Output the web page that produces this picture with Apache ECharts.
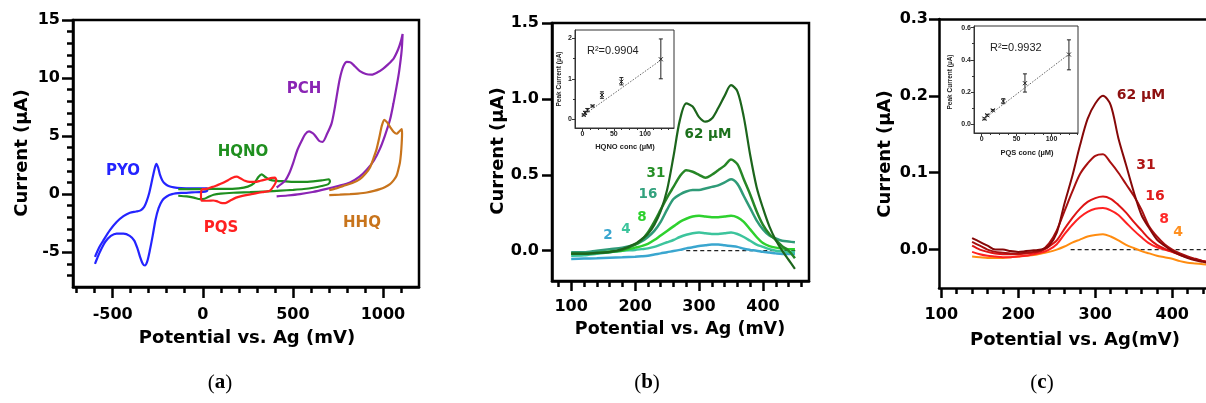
<!DOCTYPE html>
<html>
<head>
<meta charset="utf-8">
<script src="https://cdn.jsdelivr.net/npm/echarts@6/dist/echarts.min.js"></script>
<style>
  html, body { margin: 0; background: #fff; }
  #main { width: 1206px; height: 403px; }
</style>
</head>
<body>
<div id="main"></div>
<script>
// ---- panel (a): cyclic voltammograms, [potential mV, current uA]
const pyoCurve = [[-598,-5.4],[-575,-4.6],[-552,-4.0],[-515,-3.1],[-478,-2.4],[-440,-1.9],[-404,-1.6],[-370,-1.5],[-345,-1.4],[-325,-1.1],[-311,-0.6],[-297,0.1],[-284,1.0],[-270,2.0],[-258,2.6],[-248,2.3],[-238,1.7],[-225,1.2],[-210,0.9],[-190,0.7],[-160,0.58],[-120,0.52],[-60,0.5],[0,0.5],[25,0.5],[25,0.3],[0,0.2],[-60,0.15],[-120,0.1],[-170,0.0],[-200,-0.2],[-225,-0.55],[-245,-1.2],[-262,-2.2],[-278,-3.6],[-293,-4.8],[-308,-5.8],[-321,-6.15],[-333,-6.0],[-348,-5.4],[-362,-4.7],[-380,-4.0],[-405,-3.6],[-440,-3.4],[-478,-3.4],[-510,-3.6],[-540,-4.1],[-565,-4.8],[-585,-5.5],[-598,-6.0]];
const hqnoCurve = [[-136,0.43],[-80,0.42],[-15,0.43],[50,0.45],[120,0.45],[200,0.5],[250,0.65],[285,0.95],[310,1.5],[327,1.7],[345,1.5],[370,1.25],[410,1.14],[460,1.1],[502,1.05],[560,1.05],[613,1.1],[660,1.18],[700,1.28],[706,1.1],[697,0.86],[660,0.7],[613,0.55],[560,0.44],[502,0.37],[430,0.3],[354,0.23],[262,0.17],[169,0.12],[100,0.05],[60,-0.05],[30,-0.25],[10,-0.4],[-15,-0.43],[-50,-0.3],[-89,-0.2],[-136,-0.14]];
const pqsCurve = [[-6,0.43],[20,0.45],[50,0.6],[77,0.75],[110,0.95],[140,1.2],[165,1.42],[188,1.5],[210,1.35],[234,1.15],[260,1.05],[290,1.05],[320,1.15],[354,1.28],[385,1.4],[401,1.43],[408,1.2],[400,0.85],[373,0.3],[340,0.2],[317,0.14],[270,0.0],[220,-0.15],[185,-0.3],[151,-0.57],[125,-0.77],[100,-0.75],[77,-0.6],[58,-0.55],[30,-0.57],[-6,-0.57],[-10,0.0],[-6,0.43]];
const pchCurve = [[410,0.57],[456,1.14],[480,1.8],[502,2.7],[525,3.8],[549,4.6],[568,5.15],[590,5.4],[610,5.25],[623,5.05],[645,4.6],[665,4.5],[690,5.2],[715,6.1],[730,7.2],[743,8.4],[760,9.9],[780,11.0],[800,11.4],[820,11.35],[845,11.0],[872,10.6],[905,10.35],[937,10.3],[970,10.5],[1000,10.8],[1030,11.2],[1060,11.7],[1085,12.5],[1100,13.2],[1109,13.8],[1104,12.4],[1090,10.6],[1076,9.3],[1058,7.8],[1039,6.4],[1010,5.0],[983,3.9],[950,2.9],[910,2.1],[870,1.5],[817,1.0],[750,0.7],[687,0.45],[610,0.18],[539,0.0],[470,-0.12],[410,-0.2]];
const hhqCurve = [[702,0.34],[740,0.5],[780,0.71],[830,0.95],[872,1.29],[905,1.8],[928,2.3],[950,3.2],[965,3.9],[980,4.9],[993,5.85],[1007,6.4],[1022,6.2],[1039,5.8],[1060,5.35],[1076,5.2],[1090,5.4],[1104,5.6],[1106,5.2],[1104,4.4],[1100,3.5],[1094,2.7],[1085,2.1],[1076,1.6],[1060,1.2],[1039,0.86],[1010,0.6],[983,0.43],[950,0.28],[910,0.14],[860,0.05],[817,0.0],[760,-0.05],[702,-0.09]];

// ---- panel (b): HQNO square-wave scans
const potB = [100,120,140,160,180,200,210,220,230,240,250,260,270,280,290,300,310,320,330,340,350,360,370,380,390,400,410,420,430,440,450];
const hqno62 = [-0.02,-0.02,-0.015,-0.008,0.01,0.045,0.075,0.11,0.17,0.26,0.4,0.62,0.86,0.97,0.95,0.88,0.85,0.87,0.94,1.02,1.09,1.05,0.88,0.63,0.42,0.28,0.16,0.07,0.0,-0.06,-0.12];
const hqno31 = [-0.02,-0.02,-0.015,-0.01,0.005,0.04,0.07,0.12,0.19,0.27,0.35,0.42,0.49,0.53,0.52,0.5,0.48,0.5,0.53,0.56,0.6,0.57,0.47,0.37,0.26,0.17,0.11,0.07,0.03,0.0,-0.05];
const hqno16 = [-0.01,-0.01,0.0,0.01,0.02,0.04,0.06,0.09,0.13,0.19,0.27,0.34,0.37,0.39,0.4,0.4,0.41,0.42,0.43,0.45,0.47,0.44,0.36,0.28,0.2,0.14,0.1,0.08,0.065,0.06,0.055];
const hqno8 = [-0.02,-0.015,-0.01,-0.005,0.0,0.02,0.03,0.045,0.07,0.1,0.13,0.16,0.19,0.21,0.225,0.23,0.225,0.22,0.22,0.225,0.23,0.22,0.19,0.14,0.09,0.05,0.03,0.02,0.015,0.01,0.01];
const hqno4 = [-0.033,-0.03,-0.02,-0.01,0.0,0.005,0.01,0.015,0.025,0.04,0.055,0.07,0.09,0.105,0.115,0.12,0.115,0.11,0.11,0.115,0.12,0.11,0.09,0.065,0.04,0.025,0.01,0.0,-0.005,-0.01,-0.01];
const hqno2 = [-0.055,-0.052,-0.05,-0.047,-0.044,-0.04,-0.037,-0.033,-0.025,-0.018,-0.01,-0.003,0.005,0.015,0.022,0.03,0.035,0.04,0.04,0.035,0.03,0.025,0.012,0.005,0.0,-0.008,-0.012,-0.018,-0.022,-0.022,-0.022];
const baseB = [[280,0],[452,0]];

// inset (b): peak current vs HQNO conc
const concB = [2,4,8,16,31,62,125];
const peakB = [0.11,0.16,0.23,0.33,0.6,0.93,1.48];
const loB = [0.09,0.13,0.19,0.31,0.52,0.85,1.0];
const hiB = [0.13,0.2,0.27,0.35,0.68,1.03,1.98];
const fitB = [[2,0.11],[125,1.46]];

// ---- panel (c): PQS square-wave scans
const potC = [140,150,160,170,180,190,200,210,220,230,240,250,260,270,280,290,300,310,320,330,340,350,360,370,380,390,400,410,420,430,440,450];
const pqs62 = [0.015,0.01,0.005,0.0,0.0,-0.002,-0.003,-0.002,-0.001,0.0,0.005,0.022,0.06,0.095,0.135,0.17,0.19,0.2,0.188,0.145,0.11,0.075,0.045,0.028,0.013,0.005,-0.002,-0.007,-0.011,-0.014,-0.016,-0.018];
const pqs31 = [0.01,0.005,0.0,-0.003,-0.004,-0.005,-0.005,-0.004,-0.003,-0.001,0.008,0.025,0.05,0.075,0.098,0.112,0.122,0.124,0.113,0.1,0.085,0.07,0.052,0.03,0.017,0.007,0.0,-0.005,-0.009,-0.012,-0.015,-0.017];
const pqs16 = [0.005,0.0,-0.003,-0.005,-0.006,-0.006,-0.006,-0.005,-0.004,-0.002,0.004,0.012,0.027,0.041,0.053,0.062,0.067,0.069,0.066,0.058,0.048,0.036,0.025,0.014,0.006,0.001,-0.003,-0.007,-0.01,-0.013,-0.015,-0.017];
const pqs8 = [-0.003,-0.006,-0.008,-0.009,-0.01,-0.01,-0.009,-0.008,-0.006,-0.004,0.0,0.007,0.02,0.032,0.042,0.049,0.053,0.054,0.051,0.045,0.035,0.025,0.016,0.008,0.003,0.0,-0.003,-0.006,-0.01,-0.013,-0.015,-0.017];
const pqs4 = [-0.009,-0.01,-0.011,-0.011,-0.011,-0.01,-0.009,-0.008,-0.007,-0.005,-0.003,0.0,0.004,0.009,0.013,0.017,0.019,0.02,0.017,0.012,0.006,0.002,-0.002,-0.005,-0.008,-0.01,-0.012,-0.015,-0.017,-0.018,-0.019,-0.02];
const baseC = [[268,0],[450,0]];

// inset (c): peak current vs PQS conc
const concC = [4,8,16,31,62,125];
const peakC = [0.035,0.056,0.087,0.144,0.255,0.433];
const loC = [0.028,0.05,0.082,0.128,0.2,0.338];
const hiC = [0.04,0.062,0.092,0.159,0.313,0.524];
const fitC = [[4,0.035],[125,0.435]];

// tick values
const aXMajor = [-500,0,500,1000], aXMinor = [-700,-600,-400,-300,-200,-100,100,200,300,400,600,700,800,900,1100];
const aYMajor = [-5,0,5,10,15], aYMinor = [-7,-6,-4,-3,-2,-1,1,2,3,4,6,7,8,9,11,12,13,14];
const bXMajor = [100,200,300,400], bXMinor = [80,120,140,160,180,220,240,260,280,320,340,360,380,420,440,460];
const bYMajor = [0,0.5,1,1.5];
const cXMajor = [100,200,300,400], cXMinor = [120,140,160,180,220,240,260,280,320,340,360,380,420,440];
const cYMajor = [0,0.1,0.2,0.3];
const inXMajor = [0,50,100], inXMinor = [12.5,25,37.5,62.5,75,87.5,112.5,125,137.5];
const biYMajor = [0,1,2], biYMinor = [0.5,1.5];
const ciYMajor = [0,0.2,0.4,0.6], ciYMinor = [0.1,0.3,0.5];

const SANS = '"DejaVu Sans", sans-serif';
const ARIAL = '"Liberation Sans", Arial, sans-serif';
const zip = (xs, ys) => xs.map((x, i) => [x, ys[i]]);
const fix1 = v => v.toFixed(1);
const plain = v => String(v);

// a major axis (labels + long ticks) and a minor axis (short ticks only), same side
function axisPair(grid, pos, min, max, major, minor, o) {
  const base = { type: 'value', gridIndex: grid, position: pos, min: min, max: max, splitLine: { show: false } };
  const maj = Object.assign({}, base, {
    axisLine: { show: true, onZero: false, lineStyle: { color: o.lc || '#000', width: o.lw } },
    axisTick: { show: true, customValues: major, length: o.tl, lineStyle: { color: o.lc || '#000', width: o.lw } },
    axisLabel: { show: true, customValues: major, margin: o.margin, fontSize: o.fs, fontWeight: 'bold',
      fontFamily: o.ff || SANS, color: o.color || '#000', formatter: o.fmt || plain }
  });
  const mnr = Object.assign({}, base, {
    axisLine: { show: false, onZero: false },
    axisTick: { show: minor.length > 0, customValues: minor.length ? minor : [min], length: o.ml, lineStyle: { color: o.lc || '#000', width: o.lw } },
    axisLabel: { show: false }
  });
  return [maj, mnr];
}

const mainAx = { lw: 2.5, tl: 10, ml: 6, fs: 16 };
const inset = { lw: 1, tl: 3, ml: 2, fs: 7, ff: ARIAL, color: '#222', lc: '#333', margin: 3 };
const ext = (a, b) => Object.assign({}, a, b);

// panel (c) is cut by the picture's right edge: its frame right side is off canvas
const cMaxX = 443.8;

const xAxes = [
  ...axisPair(0, 'bottom', -720, 1200, aXMajor, aXMinor, ext(mainAx, { tl: 11, margin: 20 })),
  ...axisPair(1, 'bottom', 70, 472, bXMajor, bXMinor, ext(mainAx, { margin: 18 })),
  ...axisPair(2, 'bottom', -12, 146, inXMajor, inXMinor, ext(inset, {})),
  ...axisPair(3, 'bottom', 97, cMaxX, cXMajor, cXMinor, ext(mainAx, { margin: 19 })),
  ...axisPair(4, 'bottom', -11, 138, inXMajor, inXMinor, ext(inset, {})),
  { type: 'value', gridIndex: 3, position: 'top', min: 97, max: cMaxX, splitLine: { show: false },
    axisLine: { show: true, onZero: false, lineStyle: { color: '#000', width: 2.5 } },
    axisTick: { show: false }, axisLabel: { show: false } }
];
const yAxes = [
  ...axisPair(0, 'left', -8, 15, aYMajor, aYMinor, ext(mainAx, { tl: 11, margin: 13 })),
  ...axisPair(1, 'left', -0.2, 1.5, bYMajor, [], ext(mainAx, { margin: 13, fmt: fix1 })),
  ...axisPair(2, 'left', -0.21, 2.2, biYMajor, biYMinor, ext(inset, {})),
  ...axisPair(3, 'left', -0.05, 0.3, cYMajor, [], ext(mainAx, { margin: 11, fmt: fix1 })),
  ...axisPair(4, 'left', -0.054, 0.61, ciYMajor, ciYMinor, ext(inset, { fmt: fix1 }))
];

const frame = { show: true, borderColor: '#000', borderWidth: 2.5, backgroundColor: 'transparent' };
const frameIn = { show: true, borderColor: '#333', borderWidth: 1, backgroundColor: '#fff' };
const grids = [
  Object.assign({ left: 73, top: 20, width: 346, height: 267 }, frame),
  Object.assign({ left: 552, top: 23, width: 257, height: 258 }, frame),
  Object.assign({ left: 575, top: 30, width: 99, height: 98 }, frameIn),
  { left: 939, top: 19, width: 267, height: 269, show: false },
  Object.assign({ left: 974, top: 26, width: 104, height: 107 }, frameIn)
];

function curve(ax, data, color, width, smooth) {
  return { type: 'line', xAxisIndex: ax, yAxisIndex: ax, data: data, showSymbol: false, symbol: 'none',
    smooth: smooth, lineStyle: { color: color, width: width }, silent: true, animation: false };
}
function dashed(ax, data) {
  return { type: 'line', xAxisIndex: ax, yAxisIndex: ax, data: data, symbol: 'none',
    lineStyle: { color: '#222', width: 1.2, type: [4, 3] }, animation: false, z: 1 };
}
function fitLine(ax, data) {
  return { type: 'line', xAxisIndex: ax, yAxisIndex: ax, data: data, symbol: 'none',
    lineStyle: { color: '#666', width: 1, type: [1.5, 1.5] }, animation: false };
}
function errSeries(ax, conc, peak, lo, hi) {
  return {
    type: 'custom', xAxisIndex: ax, yAxisIndex: ax, animation: false,
    data: conc.map((c, i) => [c, peak[i], lo[i], hi[i]]),
    encode: { x: 0, y: 1 },
    renderItem: function (params, api) {
      const x = api.value(0);
      const pm = api.coord([x, api.value(1)]);
      const pl = api.coord([x, api.value(2)]);
      const ph = api.coord([x, api.value(3)]);
      const s = { stroke: '#222', lineWidth: 1 };
      const seg = (x1, y1, x2, y2) => ({ type: 'line', shape: { x1, y1, x2, y2 }, style: s });
      return { type: 'group', children: [
        seg(pl[0], pl[1], ph[0], ph[1]),
        seg(pl[0] - 2, pl[1], pl[0] + 2, pl[1]),
        seg(ph[0] - 2, ph[1], ph[0] + 2, ph[1]),
        seg(pm[0] - 2, pm[1] - 2, pm[0] + 2, pm[1] + 2),
        seg(pm[0] - 2, pm[1] + 2, pm[0] + 2, pm[1] - 2)
      ] };
    }
  };
}

const series = [
  curve(0, pyoCurve, '#2424ff', 2.2, 0.25),
  curve(0, hqnoCurve, '#1f8f1f', 2.2, 0.25),
  curve(0, pqsCurve, '#ff2020', 2.2, 0.25),
  curve(0, pchCurve, '#8a24b4', 2.2, 0.25),
  curve(0, hhqCurve, '#c8741c', 2.2, 0.25),

  dashed(2, baseB),
  curve(2, zip(potB, hqno2), '#3aa6cf', 2.5, 0.3),
  curve(2, zip(potB, hqno4), '#3cc49c', 2.5, 0.3),
  curve(2, zip(potB, hqno8), '#2ed12e', 2.5, 0.3),
  curve(2, zip(potB, hqno16), '#2f9b78', 2.5, 0.3),
  curve(2, zip(potB, hqno31), '#268626', 2.5, 0.3),
  curve(2, zip(potB, hqno62), '#1c651c', 2.2, 0.3),

  fitLine(4, fitB),
  errSeries(4, concB, peakB, loB, hiB),

  dashed(6, baseC),
  curve(6, zip(potC, pqs4), '#ff8c10', 2, 0.3),
  curve(6, zip(potC, pqs8), '#ff2222', 2, 0.3),
  curve(6, zip(potC, pqs16), '#dd1414', 2, 0.3),
  curve(6, zip(potC, pqs31), '#a81010', 2, 0.3),
  curve(6, zip(potC, pqs62), '#860808', 2, 0.3),

  fitLine(8, fitC),
  errSeries(8, concC, peakC, loC, hiC)
];

function txt(x, y, text, size, color, extra) {
  const e = extra || {};
  return {
    type: 'text', x: x, y: y, rotation: e.rot ? Math.PI / 2 : 0, z: 100,
    style: { text: text, fill: color || '#000', fontSize: size, fontWeight: e.weight || 'bold',
      fontFamily: e.ff || SANS, textAlign: e.align || 'center', textVerticalAlign: 'middle',
      rich: e.rich }
  };
}
const serifRich = { b: { fontWeight: 'bold', fontSize: 21, fontFamily: '"Liberation Serif", serif' } };

const graphics = [
  // axis titles
  txt(22, 153, 'Current (\u00b5A)', 18, '#000', { rot: true }),
  txt(247, 338, 'Potential vs. Ag (mV)', 18),
  txt(498, 151, 'Current (\u00b5A)', 18, '#000', { rot: true }),
  txt(680, 329, 'Potential vs. Ag (mV)', 17.5),
  txt(885, 154, 'Current (\u00b5A)', 18, '#000', { rot: true }),
  txt(1075, 340, 'Potential vs. Ag(mV)', 18),
  // panel letters
  txt(220, 383, '({b|a})', 21, '#000', { weight: 'normal', ff: '"Liberation Serif", serif', rich: serifRich }),
  txt(647, 383, '({b|b})', 21, '#000', { weight: 'normal', ff: '"Liberation Serif", serif', rich: serifRich }),
  txt(1042, 383, '({b|c})', 21, '#000', { weight: 'normal', ff: '"Liberation Serif", serif', rich: serifRich }),
  // panel (a) compound names
  txt(123, 171, 'PYO', 15, '#2424ff'),
  txt(243, 152, 'HQNO', 15, '#1f8f1f'),
  txt(304, 89, 'PCH', 15, '#8a24b4'),
  txt(221, 228, 'PQS', 15, '#ff2020'),
  txt(362, 223, 'HHQ', 15, '#c8741c'),
  // panel (b) concentrations
  txt(708, 134, '62 \u00b5M', 13.5, '#1c701c'),
  txt(656, 173, '31', 13.5, '#268f26'),
  txt(648, 194, '16', 13.5, '#33a27e'),
  txt(642, 217, '8', 13.5, '#2ed12e'),
  txt(626, 229, '4', 13.5, '#3cc49c'),
  txt(608, 235, '2', 13.5, '#3aa6cf'),
  // panel (c) concentrations
  txt(1141, 95, '62 \u00b5M', 14, '#8e1010'),
  txt(1146, 165, '31', 14, '#b01616'),
  txt(1155, 196, '16', 14, '#e01a1a'),
  txt(1164, 219, '8', 14, '#ff2a2a'),
  txt(1178, 232, '4', 14, '#ff9020'),
  // insets
  txt(587, 51, 'R\u00b2=0.9904', 11, '#222', { weight: 'normal', ff: ARIAL, align: 'left' }),
  txt(559, 79, 'Peak Current (\u00b5A)', 6.5, '#222', { rot: true, ff: ARIAL }),
  txt(625, 147, 'HQNO conc (\u00b5M)', 7.5, '#222', { ff: ARIAL }),
  txt(990, 48, 'R\u00b2=0.9932', 11, '#222', { weight: 'normal', ff: ARIAL, align: 'left' }),
  txt(950, 82, 'Peak Current (\u00b5A)', 6.5, '#222', { rot: true, ff: ARIAL }),
  txt(1027, 153, 'PQS conc (\u00b5M)', 7.5, '#222', { ff: ARIAL })
];

const chart = echarts.init(document.getElementById('main'), null, { renderer: 'canvas' });
chart.setOption({
  animation: false,
  backgroundColor: '#fff',
  grid: grids,
  xAxis: xAxes,
  yAxis: yAxes,
  series: series,
  graphic: graphics
});
</script>
</body>
</html>
